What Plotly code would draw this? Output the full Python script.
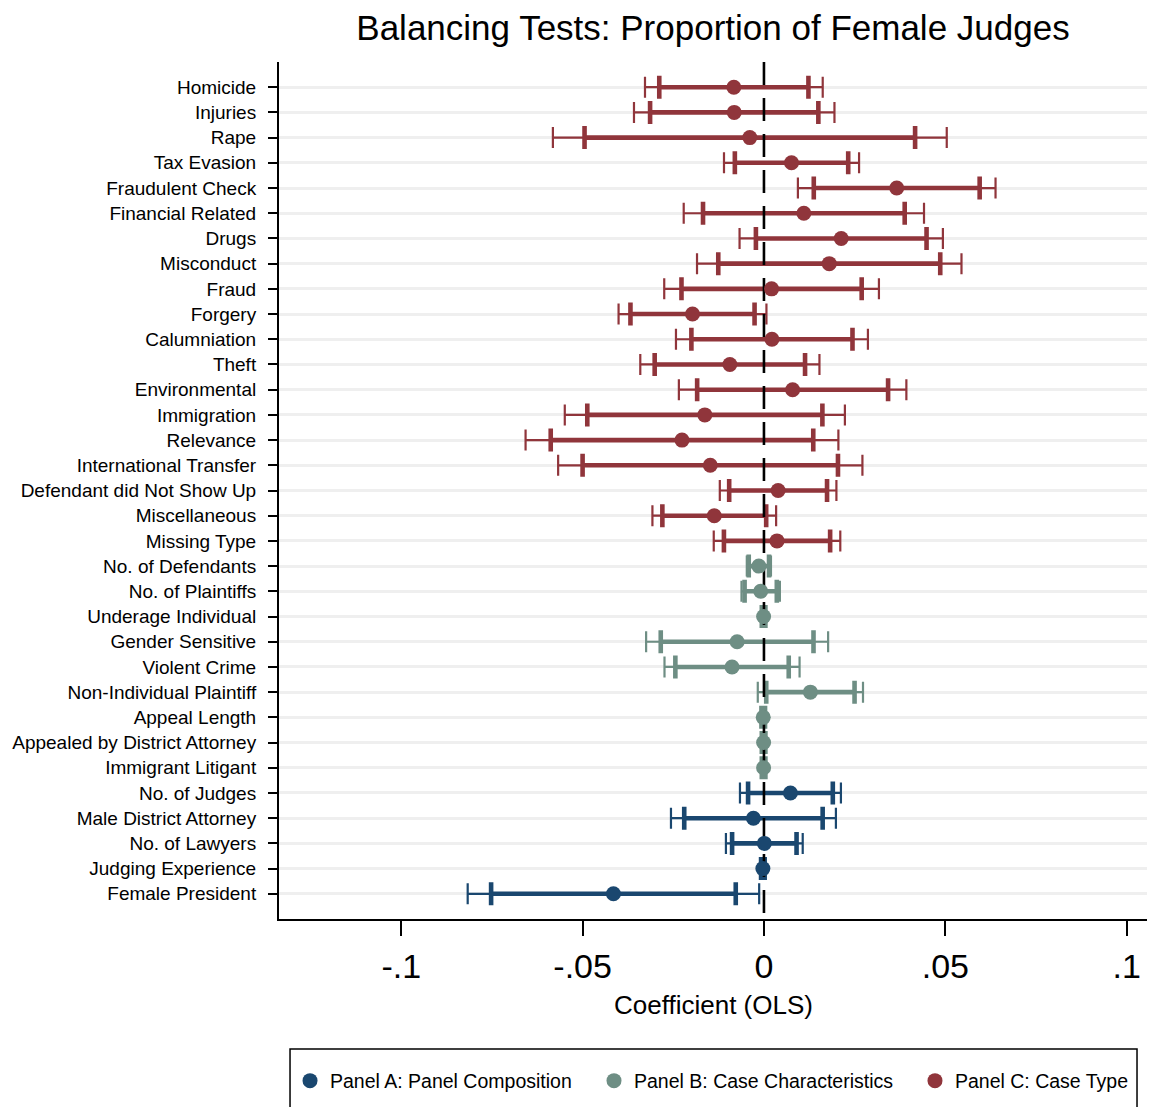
import plotly.graph_objects as go

# Panel C: case type
case_type_labels = [
    "Homicide", "Injuries", "Rape", "Tax Evasion", "Fraudulent Check",
    "Financial Related", "Drugs", "Misconduct", "Fraud", "Forgery",
    "Calumniation", "Theft", "Environmental", "Immigration", "Relevance",
    "International Transfer", "Defendant did Not Show Up", "Miscellaneous",
    "Missing Type",
]
case_type_coef = [
    -0.0083, -0.0082, -0.0039, 0.0076, 0.0366, 0.0110, 0.0213, 0.0180,
    0.0021, -0.0197, 0.0022, -0.0094, 0.0079, -0.0163, -0.0226, -0.0148,
    0.0039, -0.0137, 0.0036,
]
case_type_se = [
    0.0125, 0.0141, 0.0277, 0.0095, 0.0139, 0.0169, 0.0143, 0.0186,
    0.0151, 0.0104, 0.0135, 0.0126, 0.0160, 0.0197, 0.0220, 0.0214,
    0.0082, 0.0087, 0.0089,
]

# Panel B: case characteristics
case_char_labels = [
    "No. of Defendants", "No. of Plaintiffs", "Underage Individual",
    "Gender Sensitive", "Violent Crime", "Non-Individual Plaintiff",
    "Appeal Length", "Appealed by District Attorney", "Immigrant Litigant",
]
case_char_coef = [-0.0014, -0.0009, -0.0001, -0.0074, -0.0088, 0.0128, -0.0002, -0.0001, -0.0001]
case_char_se = [0.0017, 0.0027, 0.0003, 0.0128, 0.0095, 0.0074, 0.0003, 0.0003, 0.0003]

# Panel A: panel composition
panel_comp_labels = [
    "No. of Judges", "Male District Attorney", "No. of Lawyers",
    "Judging Experience", "Female President",
]
panel_comp_coef = [0.0073, -0.0029, 0.0001, -0.0003, -0.0415]
panel_comp_se = [0.0071, 0.0116, 0.0054, 0.0003, 0.0205]

x_ticks = [-0.1, -0.05, 0, 0.05, 0.1]
x_tick_text = ["-.1", "-.05", "0", ".05", ".1"]

Z90 = 1.645
Z95 = 1.96

FONT = "Liberation Sans, Arial, Helvetica, sans-serif"

groups = [
    ("Panel C: Case Type", "#90353b", case_type_labels, case_type_coef, case_type_se),
    ("Panel B: Case Characteristics", "#6e8e84", case_char_labels, case_char_coef, case_char_se),
    ("Panel A: Panel Composition", "#1a476f", panel_comp_labels, panel_comp_coef, panel_comp_se),
]

all_labels = case_type_labels + case_char_labels + panel_comp_labels
n_rows = len(all_labels)

fig = go.Figure()

# confidence intervals: thin 95% and thick 90%, each with end caps
row0 = 0
positions = {}
for name, color, labels, coef, se in groups:
    ys = list(range(row0, row0 + len(labels)))
    positions[name] = ys
    row0 += len(labels)
    for z, thick, cap in ((Z95, 2.2, 10.5), (Z90, 4.6, 11.5)):
        fig.add_trace(go.Scatter(
            x=coef, y=ys, mode="markers",
            marker=dict(size=1, opacity=0, color=color),
            error_x=dict(type="data", symmetric=True,
                         array=[z * s for s in se],
                         color=color, thickness=thick, width=cap),
            showlegend=False, hoverinfo="skip",
        ))

# reference line at zero
fig.add_trace(go.Scatter(
    x=[0, 0], y=[-1, n_rows], mode="lines",
    line=dict(color="black", width=2.6, dash="23px,13px"),
    showlegend=False, hoverinfo="skip",
))

# point estimates, one legend box slot per panel (A, B, C from left to right)
legend_ids = {"Panel A: Panel Composition": "legend",
              "Panel B: Case Characteristics": "legend2",
              "Panel C: Case Type": "legend3"}
for name, color, labels, coef, se in reversed(groups):
    fig.add_trace(go.Scatter(
        x=coef, y=positions[name], mode="markers", name=name,
        legend=legend_ids[name],
        marker=dict(size=15, color=color, line=dict(width=0)),
    ))

# frame around the legend
fig.add_shape(type="rect", xref="paper", yref="paper",
              x0=0.0127, x1=0.9885, y0=-0.1517, y1=-0.26,
              line=dict(color="black", width=1.5), fillcolor="rgba(0,0,0,0)")

# x axis title
fig.add_annotation(text="Coefficient (OLS)", xref="paper", yref="paper",
                   x=0.5, y=-0.1004, xanchor="center", yanchor="middle",
                   showarrow=False, font=dict(size=26, family=FONT, color="black"))

legend_style = dict(orientation="h", xanchor="left", yanchor="middle", y=-0.189,
                    yref="paper", font=dict(size=19.5, family=FONT, color="black"),
                    bgcolor="rgba(0,0,0,0)", borderwidth=0, itemsizing="trace")

fig.update_layout(
    width=1151, height=1107,
    margin=dict(l=279, r=4, t=62, b=188),
    paper_bgcolor="white", plot_bgcolor="white",
    font=dict(family=FONT, color="black"),
    title=dict(text="Balancing Tests: Proportion of Female Judges",
               x=0.5, xref="paper", y=1 - 28 / 1107, yref="container",
               yanchor="middle", xanchor="center",
               font=dict(size=35, family=FONT, color="black")),
    showlegend=True,
    legend=dict(x=0.0127, **legend_style),
    legend2=dict(x=0.3629, **legend_style),
    legend3=dict(x=0.7327, **legend_style),
)

fig.update_xaxes(
    range=[-0.1337, 0.1056], tickvals=x_ticks, ticktext=x_tick_text,
    showgrid=False, zeroline=False, showline=True, linecolor="black",
    linewidth=2, ticks="outside", ticklen=15, tickwidth=2, tickcolor="black",
    tickfont=dict(size=34, family=FONT), ticklabelstandoff=1,
    automargin=False,
)

fig.update_yaxes(
    range=[n_rows, -1], tickvals=list(range(n_rows)), ticktext=all_labels,
    showgrid=True, gridcolor="#efefef", gridwidth=3, zeroline=False,
    showline=True, linecolor="black", linewidth=2,
    ticks="outside", ticklen=9, tickwidth=2, tickcolor="black",
    tickfont=dict(size=19, family=FONT), ticklabelstandoff=8,
    automargin=False,
)

fig.write_html("out.html")
